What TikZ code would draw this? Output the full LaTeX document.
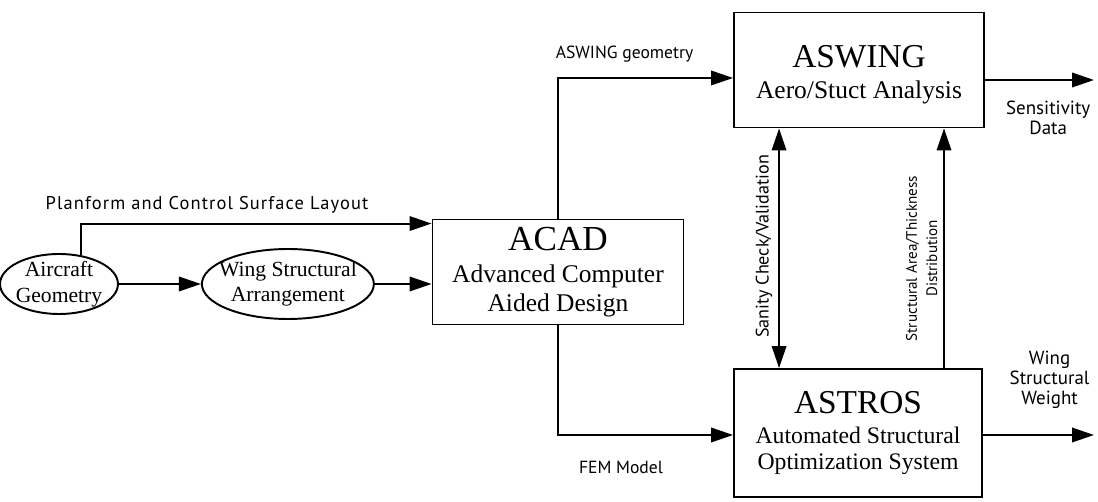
\documentclass[tikz,border=0pt]{standalone}
\usepackage{fontspec}
\setmainfont{Liberation Serif}
\newfontfamily\labelfont{PT Sans}
\newcommand{\toolname}{\fontsize{19}{21}\selectfont}
\usepackage{tikz}
\usetikzlibrary{arrows.meta,shapes.geometric,positioning,calc}

\begin{document}
\begin{tikzpicture}[x=0.02cm,y=-0.02cm,
       >={Triangle[length=4.4mm,width=2.9mm]}, black, line width=1.1pt,
       every node/.style={font=\fontsize{13.5}{15}\selectfont, align=center},
       toolbox/.style 2 args = {rectangle, draw, line width=1.1pt,
                                minimum width=#1, minimum height=#2, inner sep=2pt},
       inputblob/.style 2 args = {ellipse, draw, line width=1.1pt,
                                  minimum width=#1, minimum height=#2,
                                  inner xsep=-12pt, inner ysep=-6pt,
                                  font=\fontsize{12.3}{14.5}\selectfont},
       flowlabel/.style = {font=\labelfont\fontsize{#1}{11.5}\selectfont},
       flowlabel/.default = 9.6]
	\useasboundingbox (0,0) rectangle (1098,502);

	%% Inputs
	\node [inputblob={2.36cm}{1.2cm}] (geom) at (59,284) {Aircraft\\Geometry};
	\node [inputblob={3.44cm}{1.4cm},right = 1.64cm of geom] (wsa) {Wing Structural\\Arrangement};

	%% Tools
	\node [toolbox={5.02cm}{2.1cm},font=\fontsize{14.5}{16.5}\selectfont] (acad) at (558,272)
	      {{\fontsize{20}{22}\selectfont ACAD}\\[2pt]Advanced Computer\\Aided Design};
	\node [toolbox={5cm}{2.3cm}] (aswing) at (859,70) {};
	\node [font=\fontsize{14.5}{16.5}\selectfont] (aswing_txt) at ([yshift=-0.1cm]aswing.center)
	      {{\toolname ASWING}\\[1pt]Aero/Stuct Analysis};
	\node [toolbox={4.96cm}{2.56cm}] (astros) at (858,433)
	      {{\toolname ASTROS}\\[2pt]Automated Structural\\Optimization System};

	%% Free ends of the outputs
	\coordinate (sens_end) at (1094,80);
	\coordinate (weight_end) at (1094,435);

	%% Simple paths
	\draw[->] (geom) -- (wsa);
	\draw[->] (wsa.east) -- (wsa.east -| acad.west);
	\draw[->] (geom.53) |- ([yshift=-0.1cm]acad.north west)
	          node[flowlabel=10.5,above=2pt,pos=0.68] {\addfontfeatures{LetterSpace=6}Planform and Control Surface Layout};
	\draw[->] (acad.north) |- ([yshift=-0.16cm]aswing.west)
	          node[flowlabel=10,above=5pt,pos=0.69] {ASWING geometry};
	\draw[->] (acad.south) |- ([yshift=-0.04cm]astros.west)
	          node[flowlabel=10,below=11pt,pos=0.68] {FEM Model};
	\draw[->] ([yshift=-0.2cm]aswing.east) -- (sens_end)
	          node[flowlabel=10.8,below=8pt,pos=0.58] {Sensitivity\\Data};
	\draw[->] ([yshift=-0.04cm]astros.east) -- (weight_end)
	          node[flowlabel=10.8,above=11pt,pos=0.6] {Wing\\Structural\\Weight};

	%% Between ASWING and ASTROS
	\draw[<->] ([xshift=0.92cm]astros.north west) -- ([xshift=0.92cm]astros.north west |- aswing.south)
	          node[flowlabel=10.3,midway,rotate=90,above=1pt] (sanity) {Sanity Check/Validation};
	\draw[->] ([xshift=4.22cm]astros.north west) -- ([xshift=4.22cm]astros.north west |- aswing.south)
	          node[flowlabel=8.6,pos=0.45,rotate=90,above=1pt] (thick) {Structural Area/Thickness\\Distribution};
\end{tikzpicture}
\end{document}
